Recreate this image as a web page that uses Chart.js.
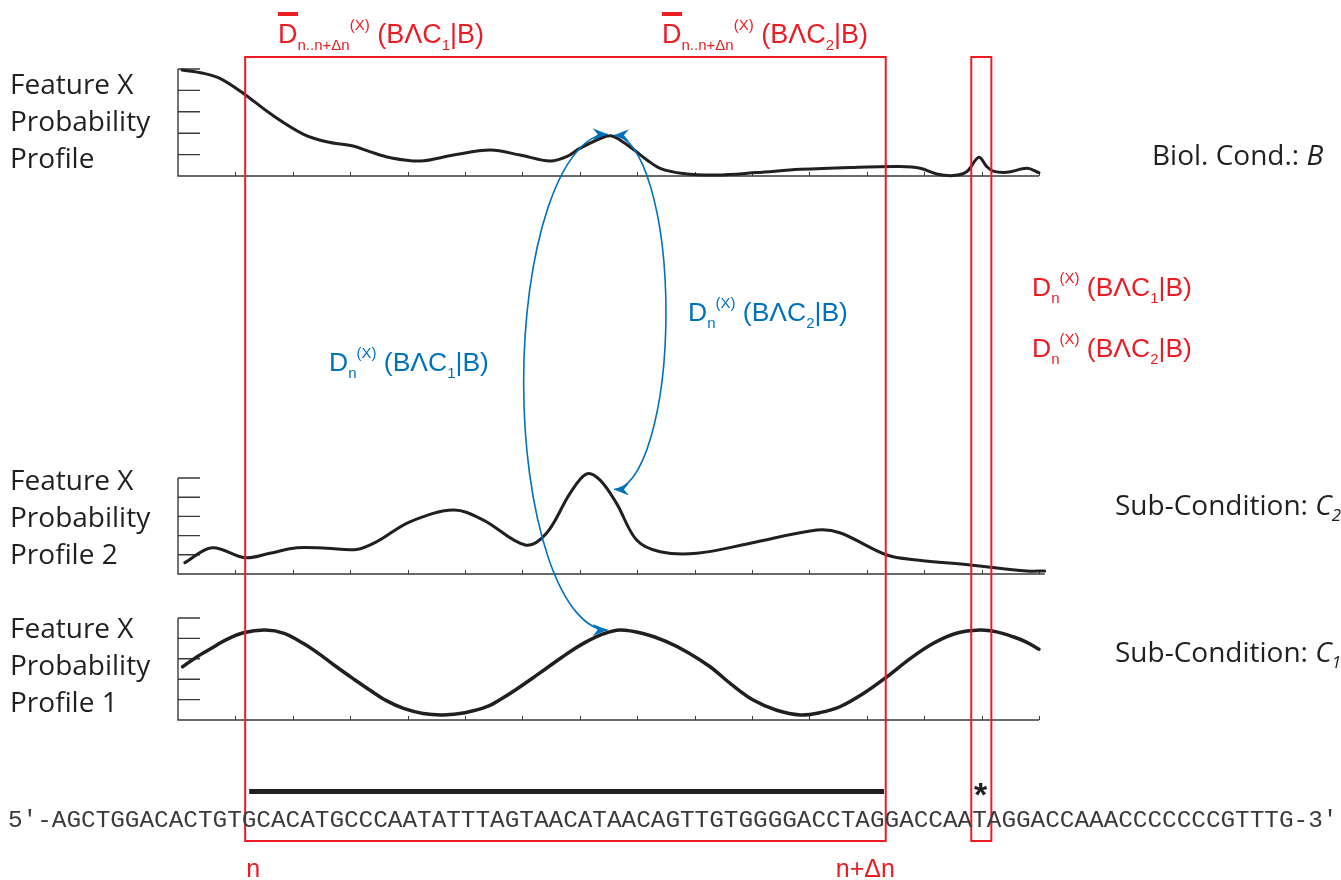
<!DOCTYPE html>
<html>
<head>
<meta charset="utf-8">
<script src="https://cdn.jsdelivr.net/npm/chart.js@4.4.1/dist/chart.umd.min.js"></script>
<style>
  html, body { margin: 0; padding: 0; background: #fff; }
  #stage { position: relative; width: 1341px; height: 880px; overflow: hidden; background: #fff; }
  #stage canvas { position: absolute; left: 0; }
  .lbl { position: absolute; white-space: nowrap; line-height: 1; }
  .sans { font-family: 'Liberation Sans', Arial, sans-serif; }
  .open { font-family: 'Open Sans', sans-serif; color: #231f20; }
  .mono { font-family: 'Liberation Mono', 'Courier New', monospace; color: #3a3a3a; }
  .red { color: #ed1c24; }
  .blue { color: #0072bc; }
  .lbl sub, .lbl sup { font-size: 15px; line-height: 0; position: relative; vertical-align: baseline; }
  .lbl sub { top: 7px; }
  .lbl sup { top: -13px; }
  .open sub { font-size: 17px; top: 6px; }
  .ob { position: relative; }
  .ob::before { content: ''; position: absolute; left: 0; right: 0; top: -7px; height: 4px; background: currentColor; }
</style>
</head>
<body>
<div id="stage">
  <canvas id="biol" width="1341" height="150" style="top:40px;width:1341px;height:150px"></canvas>
  <canvas id="sub2" width="1341" height="140" style="top:450px;width:1341px;height:140px"></canvas>
  <canvas id="sub1" width="1341" height="140" style="top:600px;width:1341px;height:140px"></canvas>
  <canvas id="overlay" width="1341" height="880" style="top:0;width:1341px;height:880px"></canvas>
</div>
<script>
// ---- data (x in sequence units 0..15, y in tick units 0..5) ----
const biolX = [0.07, 0.44, 0.73, 1.14, 1.60, 2.18, 2.59, 3.05, 3.34, 3.69, 4.22, 4.80, 5.44, 5.96, 6.48, 6.77, 7.00, 7.41, 7.56, 7.70,
               7.93, 8.17, 8.40, 8.80, 9.38, 10.08, 10.84, 11.71, 12.58, 12.93, 13.22, 13.51, 13.74, 13.95, 14.09, 14.20, 14.44, 14.79, 15.00];
const biolY = [4.95, 4.80, 4.56, 3.86, 2.93, 1.96, 1.60, 1.40, 1.14, 0.86, 0.70, 0.98, 1.21, 0.98, 0.70, 0.90, 1.29, 1.81, 1.87, 1.68,
               1.25, 0.75, 0.36, 0.12, 0.05, 0.16, 0.31, 0.40, 0.44, 0.36, 0.09, 0.02, 0.20, 0.87, 0.44, 0.23, 0.17, 0.36, 0.16];

const sub2X = [0.12, 0.59, 1.17, 1.60, 2.07, 2.59, 3.11, 3.46, 4.04, 4.80, 5.32, 6.05, 6.42, 6.83, 7.12, 7.35, 7.64, 7.99, 8.40, 9.04,
               9.97, 11.13, 11.53, 12.35, 12.87, 13.80, 14.79, 15.10];
const sub2Y = [0.59, 1.37, 0.85, 1.08, 1.37, 1.34, 1.28, 1.68, 2.72, 3.33, 2.81, 1.51, 2.12, 4.20, 5.21, 4.90, 3.68, 1.77, 1.16, 1.08,
               1.60, 2.29, 2.15, 0.99, 0.73, 0.47, 0.16, 0.16];

const sub1X = [0.08, 0.32, 0.56, 0.85, 1.14, 1.52, 1.85, 2.18, 2.47, 2.76, 3.05, 3.34, 3.63, 3.93, 4.27, 4.62, 5.00, 5.38, 5.67, 5.96,
               6.25, 6.54, 6.83, 7.12, 7.41, 7.70, 8.10, 8.51, 8.89, 9.27, 9.64, 10.02, 10.43, 10.84, 11.18, 11.53, 11.94, 12.35, 12.75, 13.16,
               13.56, 13.97, 14.26, 14.55, 14.78, 15.00];
const sub1Y = [2.61, 3.08, 3.48, 3.95, 4.28, 4.41, 4.25, 3.76, 3.22, 2.61, 2.03, 1.47, 0.95, 0.57, 0.32, 0.25, 0.36, 0.65, 1.10, 1.63,
               2.20, 2.78, 3.35, 3.84, 4.22, 4.41, 4.24, 3.84, 3.30, 2.61, 1.75, 0.98, 0.48, 0.25, 0.36, 0.65, 1.30, 2.12, 3.00, 3.76,
               4.25, 4.41, 4.32, 4.08, 3.82, 3.47];

const xTicks = [1, 2, 3, 4, 5, 6, 7, 8, 9, 10, 11, 12, 13, 14, 15];
const yTicks = [0, 1, 2, 3, 4, 5];

// annotation spans in x units
const windowSpan = [1.17, 12.33];   // n .. n+dn
const barSpan = [1.24, 12.30];
const starSpan = [13.82, 14.17];
const starX = 13.99;

const sequence = "5'-AGCTGGACACTGTGCACATGCCCAATATTTAGTAACATAACAGTTGTGGGGACCTAGGACCAATAGGACCAAACCCCCCCGTTTG-3'";

// ---- axes drawn from the chart's own scales ----
const profileAxes = {
    id: 'profileAxes',
    beforeDatasetsDraw(chart, args, opts) {
        const { ctx, scales: { x, y } } = chart;
        const x0 = x.getPixelForValue(0);
        const y0 = y.getPixelForValue(0);
        ctx.save();
        ctx.strokeStyle = '#3a3a3a';
        ctx.lineWidth = 1.4;
        ctx.beginPath();
        ctx.moveTo(x0, y.getPixelForValue(yTicks[yTicks.length - 1]));
        ctx.lineTo(x0, y0);
        ctx.lineTo(x.getPixelForValue(opts.axisEnd), y0);
        yTicks.forEach(v => {
            const p = y.getPixelForValue(v);
            ctx.moveTo(x0, p);
            ctx.lineTo(x0 + 22, p);
        });
        ctx.stroke();
        ctx.lineWidth = 1;
        ctx.beginPath();
        xTicks.forEach(v => {
            const p = Math.round(x.getPixelForValue(v)) + 0.5;
            ctx.moveTo(p, y0);
            ctx.lineTo(p, y0 - 4);
        });
        ctx.stroke();
        ctx.restore();
    }
};

function makeProfile(id, canvasTop, canvasH, areaTop, areaBottom, xs, ys, lineW, axisEnd) {
    return new Chart(document.getElementById(id), {
        type: 'line',
        data: {
            datasets: [{
                data: xs.map((v, i) => ({ x: v, y: ys[i] })),
                borderColor: '#231f20',
                borderWidth: lineW,
                borderCapStyle: 'round',
                borderJoinStyle: 'round',
                pointRadius: 0,
                tension: 0.35,
                fill: false,
                clip: false
            }]
        },
        options: {
            responsive: false,
            animation: false,
            devicePixelRatio: 1,
            events: [],
            layout: { padding: { left: 178, right: 1341 - 1039, top: areaTop - canvasTop, bottom: canvasTop + canvasH - areaBottom } },
            scales: {
                x: { type: 'linear', min: 0, max: 15, display: false },
                y: { type: 'linear', min: 0, max: 5, display: false }
            },
            plugins: {
                legend: { display: false },
                tooltip: { enabled: false },
                profileAxes: { axisEnd }
            }
        },
        plugins: [profileAxes]
    });
}

const tops = { biol: 40, sub2: 450, sub1: 600 };
const biolChart = makeProfile('biol', 40, 150, 69, 176, biolX, biolY, 3, 15);
const sub2Chart = makeProfile('sub2', 450, 140, 478, 574, sub2X, sub2Y, 3, 15.1);
const sub1Chart = makeProfile('sub1', 600, 140, 618, 720, sub1X, sub1Y, 3.5, 15);

// ---- overlay: red windows, bar, blue arrows ----
const ov = document.getElementById('overlay').getContext('2d');
const X = v => biolChart.scales.x.getPixelForValue(v);
const Y = (chart, key, v) => tops[key] + chart.scales.y.getPixelForValue(v);

ov.strokeStyle = '#ed1c24';
ov.lineWidth = 2;
[windowSpan, starSpan].forEach(s => {
    ov.strokeRect(X(s[0]), 57, X(s[1]) - X(s[0]), 784);
});
ov.fillStyle = '#231f20';
ov.fillRect(X(barSpan[0]), 789, X(barSpan[1]) - X(barSpan[0]), 5);

function arrowHead(x, y, ang) {
    ov.save();
    ov.translate(x, y);
    ov.rotate(ang);
    ov.beginPath();
    ov.moveTo(0, 0);
    ov.lineTo(-15, -6);
    ov.lineTo(-10, 0);
    ov.lineTo(-15, 6);
    ov.closePath();
    ov.fill();
    ov.restore();
}

function arcArrow(p1, p2, rx, leftSide) {
    const cx = (p1[0] + p2[0]) / 2;
    const cy = (p1[1] + p2[1]) / 2;
    const ry = (p2[1] - p1[1]) / 2;
    ov.strokeStyle = '#0072bc';
    ov.fillStyle = '#0072bc';
    ov.lineWidth = 1.6;
    ov.beginPath();
    ov.ellipse(cx, cy, rx, ry, 0, -Math.PI / 2, Math.PI / 2, leftSide);
    ov.stroke();
    const dir = leftSide ? 0 : Math.PI;
    arrowHead(cx, p1[1], dir);
    arrowHead(cx, p2[1], dir);
}

arcArrow([X(7.47), Y(biolChart, 'biol', 1.95)], [X(7.50), Y(sub1Chart, 'sub1', 4.41)], 84, true);
arcArrow([X(7.66), Y(biolChart, 'biol', 1.90)], [X(7.53), Y(sub2Chart, 'sub2', 4.40)], 52, false);

// ---- text ----
const stage = document.getElementById('stage');
const baseOff = { sans: 0.8465, open: 0.888, mono: 0.7665 };
function label(html, cls, font, left, baseline, size, extra) {
    const d = document.createElement('div');
    d.className = 'lbl ' + font + ' ' + cls;
    d.style.left = left + 'px';
    d.style.top = (baseline - size * baseOff[font]) + 'px';
    d.style.fontSize = size + 'px';
    if (extra) Object.assign(d.style, extra);
    d.innerHTML = html;
    stage.appendChild(d);
}
const dExpr = (sub, k, bar) =>
    `<span class="${bar ? 'ob' : ''}">D</span><sub>${sub}</sub><sup>(X)</sup> (BΛC<sub>${k}</sub>|B)`;

label(dExpr('n..n+Δn', 1, true), 'red', 'sans', 278, 44, 27);
label(dExpr('n..n+Δn', 2, true), 'red', 'sans', 662, 44, 27);
label(dExpr('n', 1, false), 'red', 'sans', 1032, 296, 26.5);
label(dExpr('n', 2, false), 'red', 'sans', 1032, 357, 26.5);
label(dExpr('n', 2, false), 'blue', 'sans', 688, 321, 26.5);
label(dExpr('n', 1, false), 'blue', 'sans', 329, 371, 26.5);

const leftRows = [
    ['Feature X', 94], ['Probability', 131], ['Profile', 168],
    ['Feature X', 490], ['Probability', 527], ['Profile 2', 564],
    ['Feature X', 638], ['Probability', 675], ['Profile 1', 712]
];
leftRows.forEach(r => label(r[0], '', 'open', 10, r[1], 28));

label('Biol. Cond.: <i>B</i>', '', 'open', 1152, 165, 28);
label('Sub-Condition: <i>C<sub>2</sub></i>', '', 'open', 1115, 515, 28);
label('Sub-Condition: <i>C<sub>1</sub></i>', '', 'open', 1115, 662, 28);

label(sequence, '', 'mono', 8, 828, 24.35);
label('n', 'red', 'sans', X(windowSpan[0]) + 1, 877, 25);
label('n+Δn', 'red', 'sans', X(windowSpan[1]) - 50, 877, 25);
label('*', '', 'sans', X(starX) - 7, 806, 34, { fontWeight: 'bold', color: '#231f20' });
</script>
</body>
</html>
